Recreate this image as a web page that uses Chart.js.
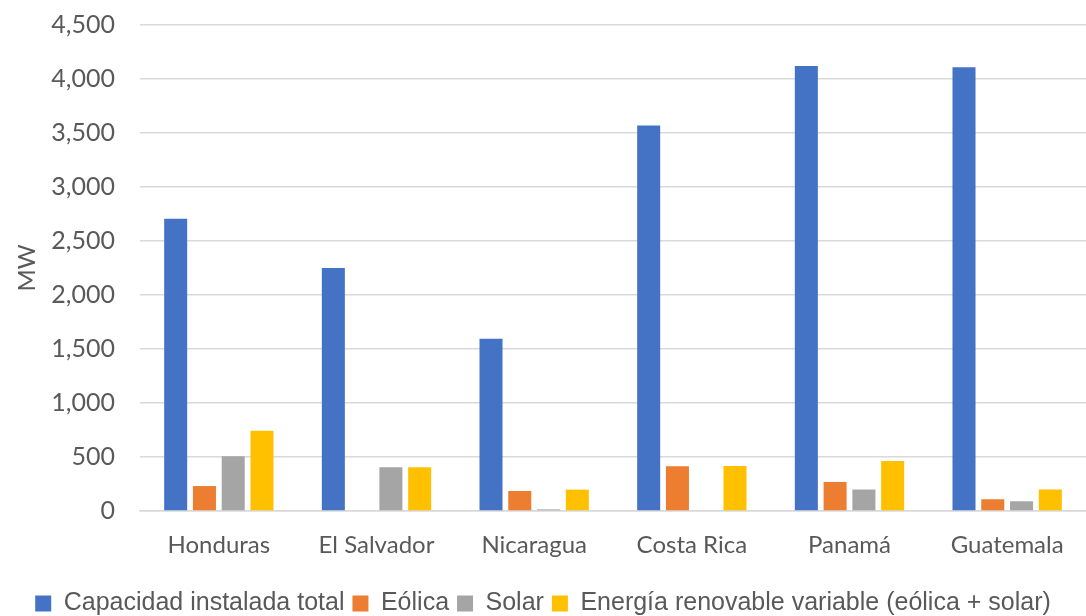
<!DOCTYPE html>
<html>
<head>
<meta charset="utf-8">
<script src="https://cdn.jsdelivr.net/npm/chart.js@4"></script>
<style>
  html, body { margin: 0; padding: 0; background: #fff; }
  #wrap { width: 1086px; height: 616px; }
</style>
</head>
<body>
<div id="wrap"><canvas id="chart-capacidad" width="1086" height="616"></canvas></div>
<script>
// Capacidad instalada por país (MW)
const paises = ['Honduras', 'El Salvador', 'Nicaragua', 'Costa Rica', 'Panamá', 'Guatemala'];
const capacidadTotal = [2705, 2250, 1595, 3570, 4120, 4108];
const eolica = [231, 0, 185, 414, 269, 109];
const solar = [506, 405, 15, 0, 199, 90];
const renovableVariable = [744, 405, 198, 417, 464, 199];
const yTicks = [0, 500, 1000, 1500, 2000, 2500, 3000, 3500, 4000, 4500];

const gris = '#595959';
const fuente = "Lato, 'Open Sans', sans-serif";

const serie = (label, data, color) => ({
  label, data,
  backgroundColor: color,
  borderWidth: 0,
  categoryPercentage: 0.73,
  barPercentage: 0.8
});

new Chart(document.getElementById('chart-capacidad'), {
  type: 'bar',
  data: {
    labels: paises,
    datasets: [
      serie('Capacidad instalada total', capacidadTotal, '#4472C4'),
      serie('Eólica', eolica, '#ED7D31'),
      serie('Solar', solar, '#A5A5A5'),
      serie('Energía renovable variable (eólica + solar)', renovableVariable, '#FFC000')
    ]
  },
  options: {
    responsive: false,
    animation: false,
    // legend sits a bit lower than its own padding would allow
    layout: { padding: { top: 25, right: 0, left: 0, bottom: -10 } },
    plugins: {
      tooltip: { enabled: false },
      legend: {
        position: 'bottom',
        labels: {
          color: gris,
          font: { family: "'Liberation Sans', sans-serif", size: 25 },
          boxWidth: 16,
          boxHeight: 16,
          padding: 8
        }
      }
    },
    scales: {
      x: {
        grid: { display: false },
        border: { color: '#D9D9D9', width: 1.5 },
        ticks: { color: gris, font: { family: fuente, size: 24 }, padding: 12 },
        afterFit: s => { s.height = 72; }
      },
      y: {
        min: 0,
        max: 4500,
        afterBuildTicks: s => { s.ticks = yTicks.map(v => ({ value: v })); },
        // invisible tick marks keep the labels clear of the plot
        grid: { color: '#D9D9D9', lineWidth: 1.5, drawTicks: true, tickLength: 22, tickColor: 'rgba(0,0,0,0)' },
        border: { display: false },
        ticks: {
          color: gris,
          font: { family: fuente, size: 25 },
          padding: 3,
          callback: v => v.toLocaleString('en-US')
        },
        title: {
          display: true,
          text: 'MW',
          color: gris,
          font: { family: fuente, size: 24 },
          padding: { top: 13, bottom: 0 }
        },
        afterFit: s => { s.width = 140; }
      }
    }
  }
});
</script>
</body>
</html>
